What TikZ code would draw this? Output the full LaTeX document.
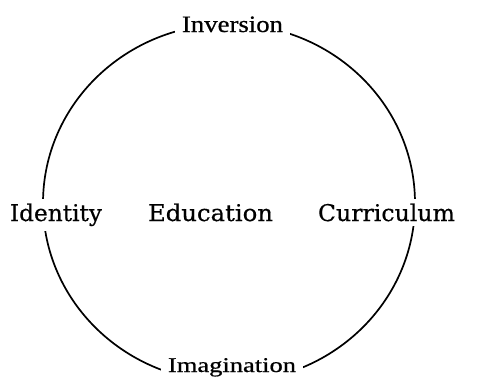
\documentclass[tikz,border=0pt]{standalone}
\usepackage{fontspec}
\setmainfont[FakeBold=0.6]{Liberation Serif}
\newfontfamily\midfont[FakeBold=0.5]{DejaVu Serif}
\usepackage{graphicx}
\newcommand{\fitw}[2]{\resizebox{#1}{\height}{#2}}
\tikzset{
  lbl/.style={anchor=base, fill=white, inner xsep=7pt, inner ysep=4pt},
  ring/.style={line width=1.7pt, black},
}
\begin{document}
\begin{tikzpicture}[x=1pt,y=-1pt]
\useasboundingbox (0,0) rectangle (485,384);
\draw[ring] (229,203) ellipse [x radius=186pt, y radius=179pt];
\node[lbl] (inv) at (232.5,32) {\fontsize{23.5}{26}\selectfont\fitw{101pt}{Inversion}};
\node[lbl, inner ysep=12pt] (ima) at (232,372) {\fontsize{21}{24}\selectfont\fitw{128pt}{Imagination}};
\node[lbl, inner ysep=5pt] (ide) at (56,221) {\midfont\fontsize{23}{26}\selectfont\fitw{92pt}{Identity}};
\node[anchor=base] (edu) at (210.5,221) {\midfont\fontsize{23}{26}\selectfont\fitw{125pt}{Education}};
\node[lbl, inner xsep=0pt, inner ysep=5pt] (cur) at (386.5,221) {\midfont\fontsize{23}{26}\selectfont\fitw{137pt}{Curriculum}};
\end{tikzpicture}
\end{document}
